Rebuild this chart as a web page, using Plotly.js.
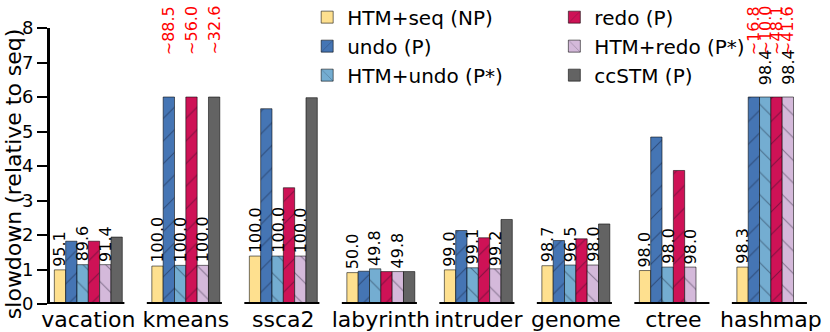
<!DOCTYPE html>
<html>
<head>
<meta charset="utf-8">
<script src="https://cdn.plot.ly/plotly-3.0.1.min.js"></script>
<style>
  html, body { margin: 0; padding: 0; background: #fff; }
  #chart { width: 830px; height: 332px; }
</style>
</head>
<body>
<div id="chart"></div>
<script>
// ── Data (slowdown relative to seq; values above YCAP are clipped and flagged) ──
const CATEGORIES = ['vacation', 'kmeans', 'ssca2', 'labyrinth', 'intruder', 'genome', 'ctree', 'hashmap'];

const HTM_SEQ  = [0.99, 1.10, 1.39, 0.91, 0.99, 1.11, 0.97, 1.07];
const UNDO     = [1.82, 88.5, 5.66, 0.95, 2.13, 1.84, 4.84, 16.8];
const HTM_UNDO = [1.14, 1.12, 1.39, 1.02, 1.05, 1.13, 1.07, 10.0];
const REDO     = [1.82, 56.0, 3.37, 0.94, 1.92, 1.89, 3.87, 48.1];
const HTM_REDO = [1.14, 1.12, 1.39, 0.94, 1.02, 1.13, 1.07, 41.6];
const CCSTM    = [1.94, 32.6, 5.98, 0.94, 2.45, 2.32, null, null];

// % of transactions committed in HTM, printed above the HTM bars
const HTM_SEQ_PCT  = ['95.1', '100.0', '100.0', '50.0', '99.0', '98.7', '98.0', '98.3'];
const HTM_UNDO_PCT = ['89.6', '100.0', '100.0', '49.8', '99.1', '96.5', '98.0', '98.4'];
const HTM_REDO_PCT = ['91.4', '100.0', '100.0', '49.8', '99.2', '98.0', '98.0', '98.4'];

const YCAP = 6;
const FONT = 'DejaVu Sans, sans-serif';
const BARGAP = 0.303;

// ── Series styling ────────────────────────────────────────────────────────────
const SERIES = [
  { name: 'HTM+seq (NP)',   y: HTM_SEQ,  color: '#fee08f', hatch: '',   pct: HTM_SEQ_PCT,  legend: 'legend'  },
  { name: 'undo (P)',       y: UNDO,     color: '#4575b4', hatch: '/',  pct: null,         legend: 'legend'  },
  { name: 'HTM+undo (P*)',  y: HTM_UNDO, color: '#74add1', hatch: '\\', pct: HTM_UNDO_PCT, legend: 'legend'  },
  { name: 'redo (P)',       y: REDO,     color: '#ce1256', hatch: '/',  pct: null,         legend: 'legend2' },
  { name: 'HTM+redo (P*)',  y: HTM_REDO, color: '#d4b9da', hatch: '\\', pct: HTM_REDO_PCT, legend: 'legend2' },
  { name: 'ccSTM (P)',      y: CCSTM,    color: '#636363', hatch: '',   pct: null,         legend: 'legend2' },
];

const idx = CATEGORIES.map((_, i) => i);
const slot = (1 - BARGAP) / SERIES.length;

const traces = SERIES.map(s => ({
  type: 'bar',
  name: s.name,
  legend: s.legend,
  x: idx,
  y: s.y.map(v => v === null ? null : Math.min(v, YCAP)),
  marker: {
    color: s.color,
    line: { color: 'rgba(0,0,0,0.55)', width: 1 },
    pattern: {
      shape: s.hatch, size: 16, solidity: 0.07,
      fillmode: 'overlay', bgcolor: s.color, fgcolor: 'rgba(10,10,30,0.75)',
    },
  },
  hoverinfo: 'skip',
}));

// ── Annotations: HTM % labels and clipped-value labels ───────────────────────
const annotations = [];
SERIES.forEach((s, j) => {
  const off = (j - (SERIES.length - 1) / 2) * slot;
  s.y.forEach((v, i) => {
    if (v === null) return;
    const capped = v > YCAP;
    if (s.pct) {
      annotations.push({
        x: i + off, y: Math.min(v, YCAP), xref: 'x', yref: 'y',
        text: s.pct[i], textangle: -90, showarrow: false,
        xanchor: 'center', yanchor: 'bottom', yshift: capped ? 10 : 1,
        font: { family: FONT, size: 16, color: '#000' },
      });
    }
    if (capped) {
      // red "~value" marker for bars clipped at YCAP, centred above the axis top
      annotations.push({
        x: i + off, y: 7.93, xref: 'x', yref: 'y',
        text: '~' + v.toFixed(1), textangle: -90, showarrow: false,
        xanchor: 'center', yanchor: 'middle',
        font: { family: FONT, size: 16, color: '#ff0000' },
      });
    }
  });
});

// y-axis title drawn as an annotation so it sits left of the tick labels
annotations.push({
  xref: 'paper', yref: 'paper', x: -0.0475, y: 0.472,
  text: 'slowdown (relative to seq)', textangle: -90, showarrow: false,
  xanchor: 'center', yanchor: 'middle',
  font: { family: FONT, size: 22, color: '#000' },
});

// thick baseline under each benchmark group
const shapes = idx.map(i => ({
  type: 'line', xref: 'x', yref: 'y',
  x0: i - 0.40, x1: i + 0.37, y0: 0, y1: 0,
  line: { color: '#000', width: 4 },
}));

const layout = {
  width: 830, height: 332,
  paper_bgcolor: '#fff', plot_bgcolor: '#fff',
  font: { family: FONT, color: '#000' },
  margin: { l: 50, r: 10, t: 28, b: 28, autoexpand: false },
  barmode: 'group',
  bargap: BARGAP,
  bargroupgap: 0,
  xaxis: {
    range: [-0.393, 7.504],
    tickvals: idx, ticktext: CATEGORIES,
    tickfont: { family: FONT, size: 22 },
    showline: false, showgrid: false, zeroline: false, ticks: '',
    automargin: false,
  },
  yaxis: {
    range: [0, 8], dtick: 1,
    showline: true, linewidth: 3, linecolor: '#000',
    ticks: 'outside', ticklen: 10, tickwidth: 2, tickcolor: '#000',
    tickfont: { family: FONT, size: 18 },
    showgrid: false, zeroline: false, automargin: false,
  },
  legend: {
    x: 0.334, y: 1.11, xanchor: 'left', yanchor: 'top',
    bgcolor: 'rgba(0,0,0,0)', font: { family: FONT, size: 20 },
  },
  legend2: {
    x: 0.655, y: 1.11, xanchor: 'left', yanchor: 'top',
    bgcolor: 'rgba(0,0,0,0)', font: { family: FONT, size: 20 },
  },
  shapes: shapes,
  annotations: annotations,
};

Plotly.newPlot('chart', traces, layout, { displayModeBar: false, staticPlot: true });
</script>
</body>
</html>
